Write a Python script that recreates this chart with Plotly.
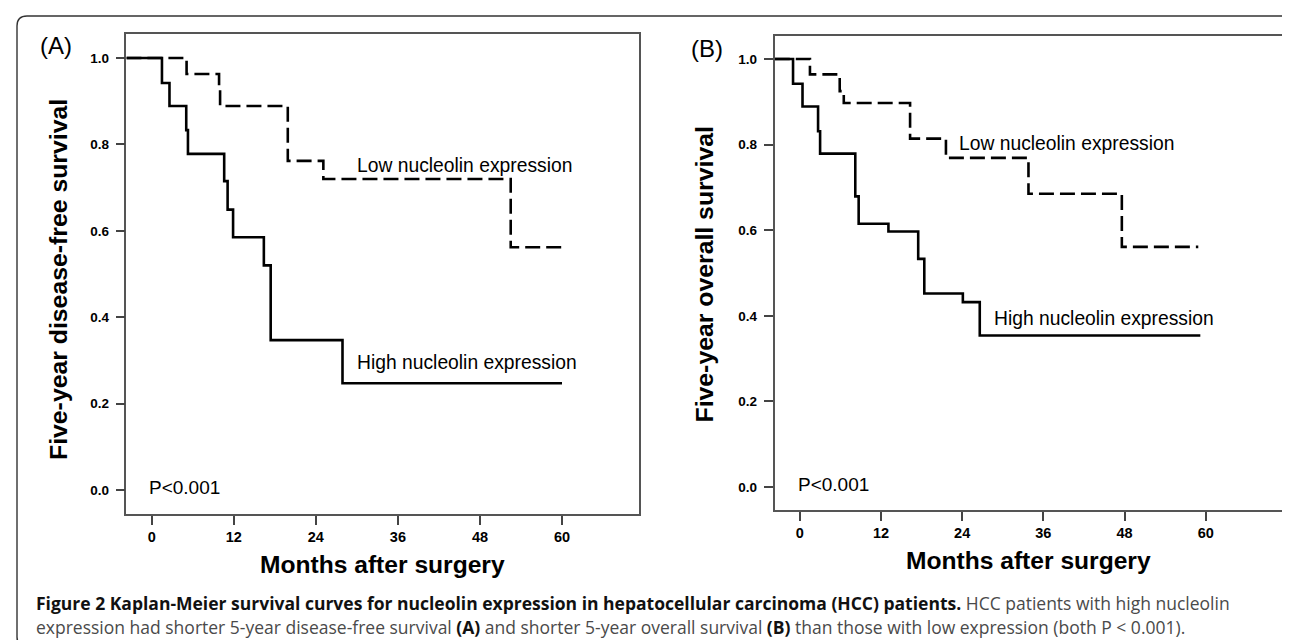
import plotly.graph_objects as go

W, H = 1290, 640

# ---------------- data ----------------
month_ticks = [0, 12, 24, 36, 48, 60]
surv_ticks = [0.0, 0.2, 0.4, 0.6, 0.8, 1.0]
surv_tick_labels = ["0.0", "0.2", "0.4", "0.6", "0.8", "1.0"]

# Panel A: disease-free survival
a_low_t = [-3.7, 5.1, 9.85, 10.0, 19.9, 25.1, 52.5, 59.9]
a_low_s = [1.0, 0.963, 0.926, 0.889, 0.762, 0.720, 0.562, 0.562]
a_high_t = [-3.7, 1.5, 2.6, 5.05, 5.3, 10.6, 11.1, 11.9, 16.4, 17.4, 27.9, 60.0]
a_high_s = [1.0, 0.942, 0.889, 0.833, 0.778, 0.715, 0.649, 0.585, 0.520, 0.347, 0.247, 0.247]

# Panel B: overall survival
b_low_t = [-3.7, 1.5, 5.9, 6.5, 16.3, 21.6, 33.8, 47.6, 58.9]
b_low_s = [1.0, 0.964, 0.925, 0.897, 0.814, 0.769, 0.685, 0.561, 0.561]
b_high_t = [-3.7, -1.0, 0.4, 2.7, 3.0, 8.2, 8.7, 13.1, 17.5, 18.4, 24.1, 26.6, 59.2]
b_high_s = [1.0, 0.942, 0.889, 0.831, 0.779, 0.679, 0.615, 0.597, 0.533, 0.452, 0.432, 0.354, 0.354]

low_label = "Low nucleolin expression"
high_label = "High nucleolin expression"
p_label = "P<0.001"
x_title = "Months after surgery"
a_y_title = "Five-year disease-free survival"
b_y_title = "Five-year overall survival"
caption_1 = ("<b style='color:#111111'>Figure 2 Kaplan-Meier survival curves for nucleolin expression in hepatocellular "
             "carcinoma (HCC) patients.</b> HCC patients with high nucleolin")
caption_2 = ("expression had shorter 5-year disease-free survival <b style='color:#111111'>(A)</b> and shorter 5-year "
             "overall survival <b style='color:#111111'>(B)</b> than those with low expression (both P &lt; 0.001).")


def px(x):
    return x / W


def py(y):
    return 1 - y / H


fig = go.Figure()

LINE_W = 2.6
DASH = "15px,6px"

fig.add_trace(go.Scatter(x=a_low_t, y=a_low_s, mode="lines", line=dict(shape="hv", color="black", width=LINE_W, dash=DASH),
                         xaxis="x", yaxis="y", showlegend=False, hoverinfo="skip"))
fig.add_trace(go.Scatter(x=a_high_t, y=a_high_s, mode="lines", line=dict(shape="hv", color="black", width=LINE_W),
                         xaxis="x", yaxis="y", showlegend=False, hoverinfo="skip"))
fig.add_trace(go.Scatter(x=b_low_t, y=b_low_s, mode="lines", line=dict(shape="hv", color="black", width=LINE_W, dash=DASH),
                         xaxis="x2", yaxis="y2", showlegend=False, hoverinfo="skip"))
fig.add_trace(go.Scatter(x=b_high_t, y=b_high_s, mode="lines", line=dict(shape="hv", color="black", width=LINE_W),
                         xaxis="x2", yaxis="y2", showlegend=False, hoverinfo="skip"))

tick_font_x = dict(family="Liberation Sans", size=14.5, color="black", weight="bold")
tick_font_y = dict(family="Liberation Sans", size=13.5, color="black", weight="bold")
axis_common = dict(showgrid=False, zeroline=False, showline=True, mirror=True, linecolor="#555555",
                   linewidth=1.5, ticks="outside", ticklen=9, tickwidth=1.5, tickcolor="#444444")

fig.update_layout(
    width=W, height=H, margin=dict(l=0, r=0, t=0, b=0),
    paper_bgcolor="white", plot_bgcolor="white",
    xaxis=dict(domain=[px(118.4), px(630.6)], range=[-3.70, 71.2], tickvals=month_ticks,
               tickfont=tick_font_x, anchor="y", **axis_common),
    yaxis=dict(domain=[py(506), py(26)], range=[-0.0556, 1.0556], tickvals=surv_ticks,
               ticktext=surv_tick_labels, tickfont=tick_font_y, anchor="x", ticklabelstandoff=4, **axis_common),
    xaxis2=dict(domain=[px(766.5), px(1273.5)], range=[-3.74, 71.2], tickvals=month_ticks,
                tickfont=tick_font_x, anchor="y2", **axis_common),
    yaxis2=dict(domain=[py(502.3), py(28.3)], range=[-0.0544, 1.053], tickvals=surv_ticks,
                ticktext=surv_tick_labels, tickfont=tick_font_y, anchor="x2", ticklabelstandoff=4, **axis_common),
)

inner_font = dict(family="Liberation Sans", size=19.3, color="black")
p_font = dict(family="Liberation Sans", size=19, color="black")
title_font = dict(family="Liberation Sans", size=24.6, color="black", weight="bold")
ytitle_font = dict(family="Liberation Sans", size=24.8, color="black", weight="bold")
panel_font = dict(family="Liberation Sans", size=24, color="black")

ann = []


def add_text(text, x, y, font, xanchor="center", yanchor="middle", angle=0):
    ann.append(dict(text=text, x=px(x), y=py(y), xref="paper", yref="paper", showarrow=False,
                    xanchor=xanchor, yanchor=yanchor, font=font, textangle=angle))


# panel A
add_text("(A)", 48, 38, panel_font)
add_text(low_label, 457, 157, inner_font)
add_text(high_label, 459, 354, inner_font)
add_text(p_label, 176, 479, p_font)
add_text(x_title, 374.5, 556, title_font)
add_text(a_y_title, 50, 272, ytitle_font, angle=-90)

# panel B
add_text("(B)", 699, 40, panel_font)
add_text(low_label, 1058, 135, inner_font)
add_text(high_label, 1096, 310, inner_font)
add_text(p_label, 825, 476, p_font)
add_text(x_title, 1020, 552.5, title_font)
add_text(b_y_title, 696, 266.5, ytitle_font, angle=-90)

# caption
cap_font = dict(family="Open Sans", size=17.5, color="#4a4a4a")
ann.append(dict(text=caption_1, x=px(26), y=py(595), xref="paper", yref="paper", showarrow=False,
                xanchor="left", yanchor="middle", font=cap_font, align="left"))
ann.append(dict(text=caption_2, x=px(26), y=py(619), xref="paper", yref="paper", showarrow=False,
                xanchor="left", yanchor="middle", font=cap_font, align="left"))

fig.update_layout(annotations=ann)

# outer rounded frame
x0, x1, y0, y1, r = 9, 1288, 8, 639, 10
path = (f"M {px(x0)},{py(y1 - r)} L {px(x0)},{py(y0 + r)} Q {px(x0)},{py(y0)} {px(x0 + r)},{py(y0)} "
        f"L {px(x1 - r)},{py(y0)} Q {px(x1)},{py(y0)} {px(x1)},{py(y0 + r)} L {px(x1)},{py(y1)} "
        f"M {px(x0)},{py(y1 - r)} Q {px(x0)},{py(y1)} {px(x0 + r)},{py(y1)}")
fig.add_shape(type="path", path=path, xref="paper", yref="paper", line=dict(color="#333333", width=1.4))

fig.write_html("out.html")
